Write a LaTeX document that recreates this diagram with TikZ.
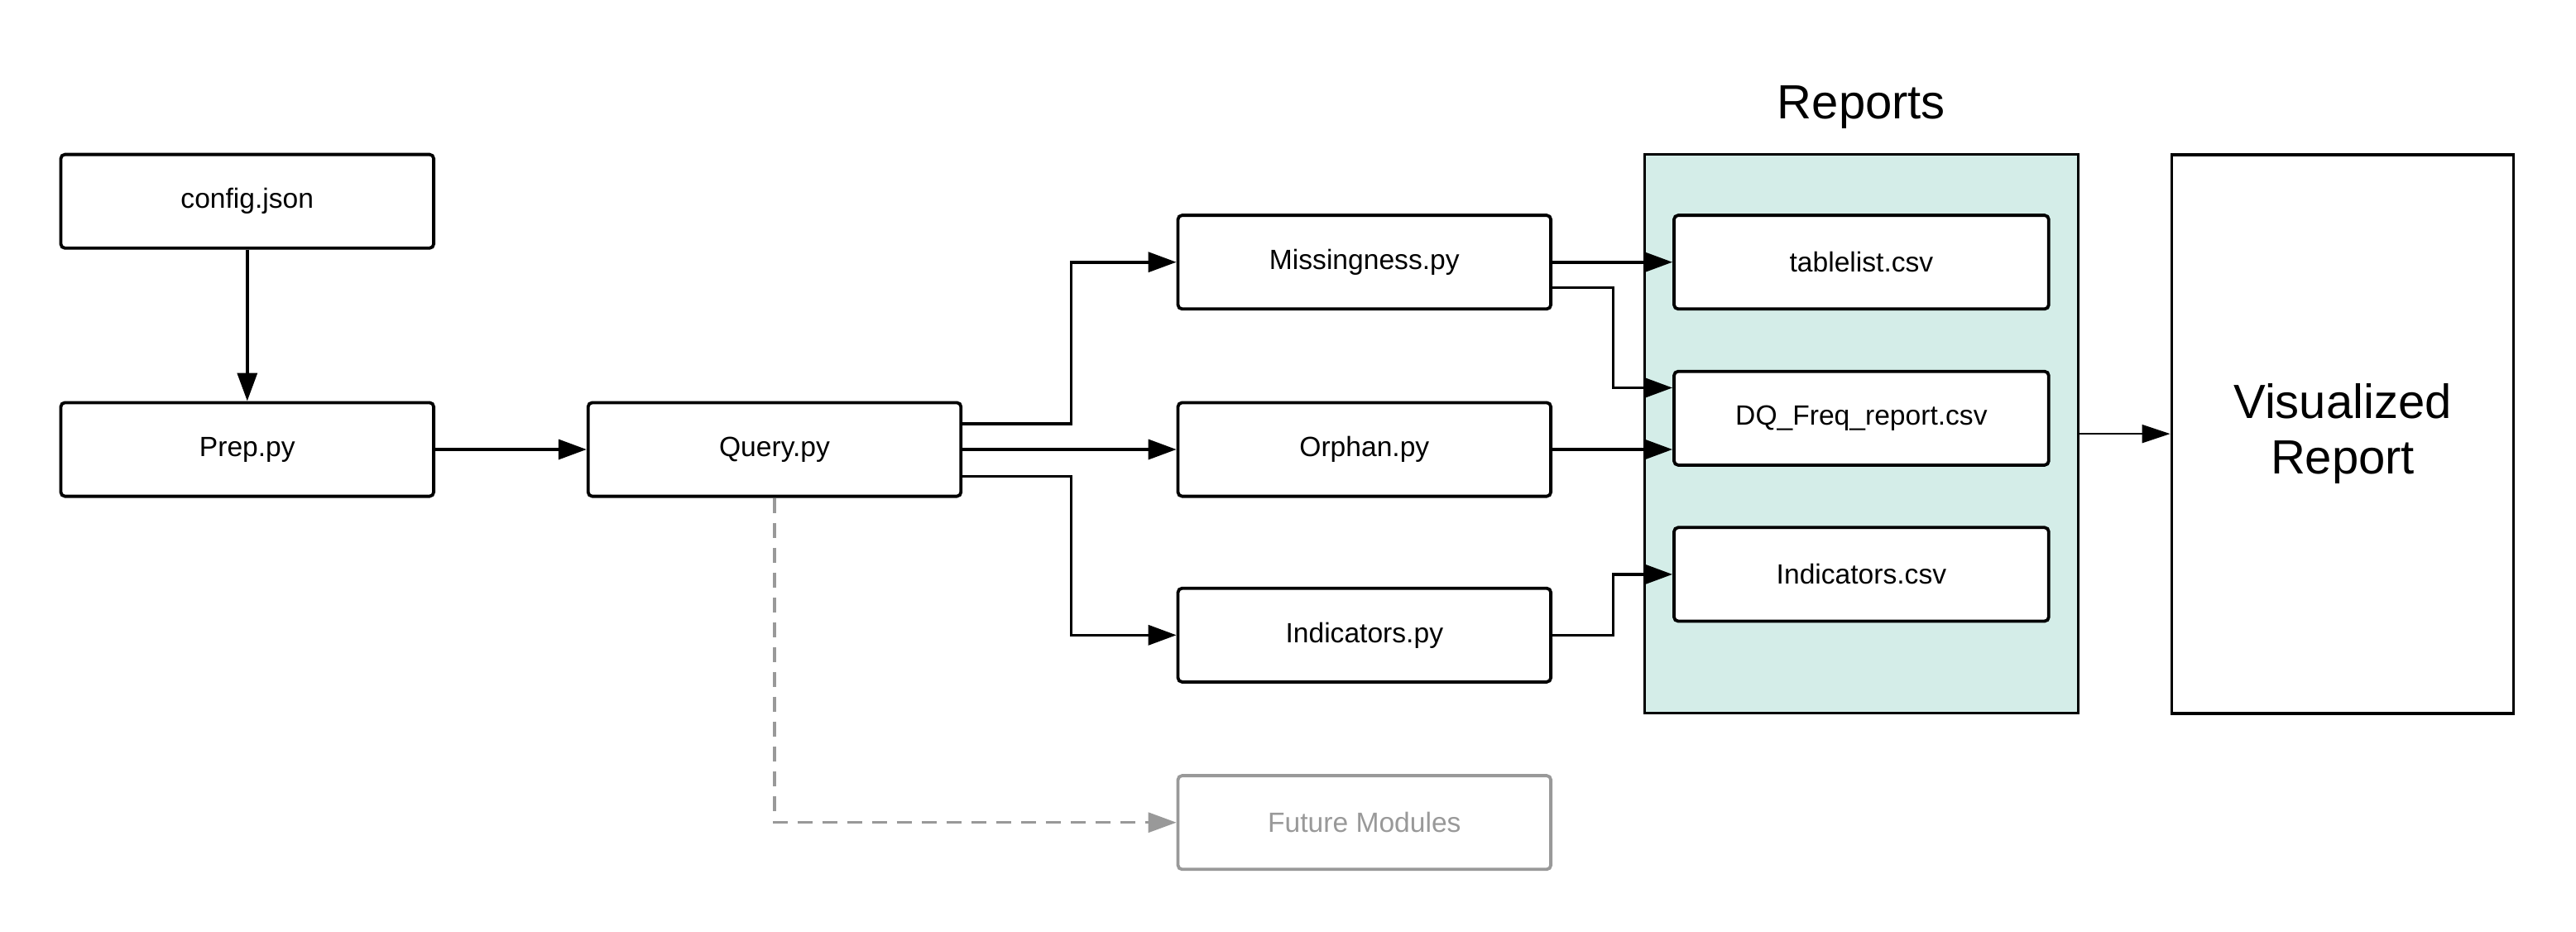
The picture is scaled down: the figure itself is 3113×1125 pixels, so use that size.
\documentclass[tikz,border=0pt]{standalone}
\usepackage{fontspec}
\setmainfont{Liberation Sans}
\usetikzlibrary{arrows.meta}
\definecolor{reportfill}{RGB}{212,237,232}
\definecolor{futuregray}{RGB}{153,153,153}
\begin{document}
\begin{tikzpicture}[x=0.5pt,y=-0.5pt,
  modbox/.style={draw,line width=1.9pt,rounded corners=2.5pt,minimum width=225.3pt,minimum height=56.6pt,inner sep=0pt,font=\fontsize{16.8}{20}\selectfont,fill=white},
  csvbox/.style={modbox,minimum width=226.4pt},
  futurebox/.style={modbox,draw=futuregray,text=futuregray},
  container/.style={draw,line width=1.8pt,minimum width=262pt,minimum height=337.5pt,inner sep=0pt,fill=reportfill},
  bigbox/.style={draw,line width=1.9pt,minimum width=206.5pt,minimum height=337.5pt,inner sep=0pt,align=center,font=\fontsize{29}{33.75}\selectfont},
  biglabel/.style={font=\fontsize{29}{33.75}\selectfont,inner sep=0pt},
  conn/.style={line width=1.8pt,-{Triangle[length=17pt,width=12pt]}},
  thinconn/.style={line width=1.1pt,-{Triangle[length=17pt,width=11pt]}},
  futureconn/.style={line width=1.6pt,draw=futuregray,dash pattern=on 9pt off 6pt,-{Triangle[length=17pt,width=12pt,fill=futuregray]}}
]
\useasboundingbox (0,0) rectangle (3113,1125);

% left column
\node[modbox] (cfg) at (298.8,243.2) {config.json};
\node[modbox] (prep) at (298.8,543) {Prep.py};
\node[modbox] (query) at (936,543) {Query.py};

% modules
\node[modbox] (miss) at (1648.8,316.7) {Missingness.py};
\node[modbox] (orph) at (1648.8,543) {Orphan.py};
\node[modbox] (ind) at (1648.8,767.3) {Indicators.py};
\node[futurebox] (fut) at (1648.8,993.7) {Future Modules};

% reports
\node[container] (rep) at (2249.4,524.1) {};
\node[biglabel] (replabel) at (2249.4,130) {Reports};
\node[csvbox] (tab) at (2249.4,316.7) {tablelist.csv};
\node[csvbox] (dq) at (2249.4,505.3) {DQ\_Freq\_report.csv};
\node[csvbox] (indcsv) at (2249.4,693.9) {Indicators.csv};

% visualized
\node[bigbox] (vis) at (2831,524.1) {Visualized\\Report};

% bend columns
\coordinate (bx1) at (1294.4,0);
\coordinate (bx2) at (1949.6,0);
\coordinate (qa) at ([yshift=15.5pt]query.east);
\coordinate (qb) at ([yshift=-16.3pt]query.east);
\coordinate (ma) at ([yshift=-15.35pt]miss.east);
\coordinate (dqa) at ([yshift=18.4pt]dq.west);

% connectors
\draw[conn] (cfg) -- (prep);
\draw[conn] (prep) -- (query);
\draw[conn] (qa) -| (bx1 |- miss.west) -- (miss.west);
\draw[conn] (query.east) -- (orph.west);
\draw[conn] (qb) -| (bx1 |- ind.west) -- (ind.west);
\draw[conn] (miss.east) -- (tab.west);
\draw[conn] (ma) -| (bx2 |- dqa) -- (dqa);
\draw[conn] (orph.east) -- (orph.east -| dq.west);
\draw[conn] (ind.east) -| (bx2 |- indcsv.west) -- (indcsv.west);
\draw[thinconn] (rep.east) -- (vis.west);
\draw[futureconn] (query.south) |- (fut.west);
\end{tikzpicture}
\end{document}
